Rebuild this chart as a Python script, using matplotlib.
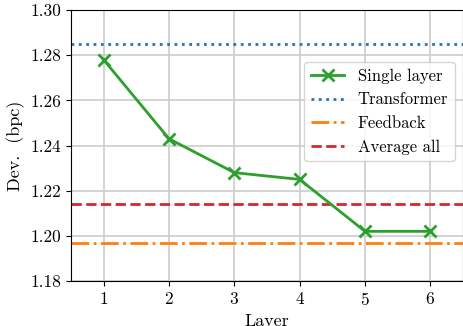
import matplotlib
matplotlib.use('Agg')
import matplotlib.pyplot as plt

layers = [1, 2, 3, 4, 5, 6]
single_layer = [1.278, 1.243, 1.228, 1.225, 1.202, 1.202]
transformer = 1.285
feedback = 1.197
average_all = 1.214

plt.rcParams['font.family'] = ['cmr10', 'DejaVu Serif']
plt.rcParams['mathtext.fontset'] = 'cm'
plt.rcParams['axes.formatter.use_mathtext'] = True

fig = plt.figure(figsize=(4.64, 3.26), dpi=100)
ax = fig.add_axes([0.153, 0.138, 0.845, 0.831])

ax.plot(layers, single_layer, color='tab:green', marker='x', markersize=8,
        markeredgewidth=2, linewidth=2, label='Single layer', zorder=3)
ax.axhline(transformer, color='tab:blue', linestyle=':', linewidth=2, label='Transformer')
ax.axhline(feedback, color='tab:orange', linestyle='-.', linewidth=2, label='Feedback')
ax.axhline(average_all, color='tab:red', linestyle='--', linewidth=2, label='Average all')

ax.set_xlim(0.5, 6.5)
ax.set_ylim(1.18, 1.30)
ax.set_xticks(layers)
ax.set_yticks([1.18, 1.20, 1.22, 1.24, 1.26, 1.28, 1.30])
ax.set_yticklabels(['1.18', '1.20', '1.22', '1.24', '1.26', '1.28', '1.30'])
ax.grid(True, color='#cccccc', linewidth=1.2)
ax.set_axisbelow(True)
ax.tick_params(labelsize=12.5)
ax.set_xlabel('Layer', fontsize=13)
ax.set_ylabel('Dev.  (bpc)', fontsize=13)
ax.legend(loc='upper right', bbox_to_anchor=(1.0, 0.84), fontsize=12)

fig.savefig('out.png', dpi=100)
